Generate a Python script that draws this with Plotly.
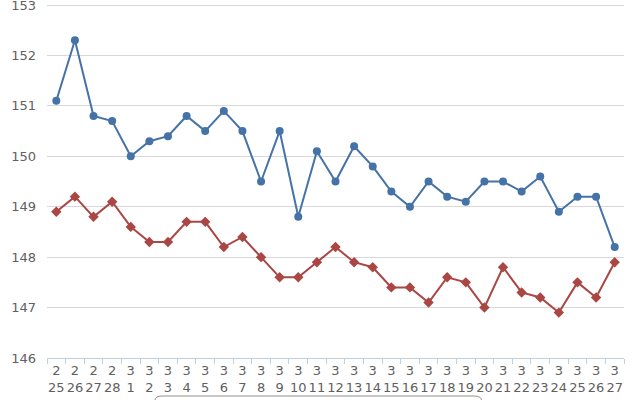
import plotly.graph_objects as go

# dates (month, day) shown as two-line tick labels
months = [2, 2, 2, 2] + [3] * 27
days = [25, 26, 27, 28] + list(range(1, 28))

blue_vals = [151.1, 152.3, 150.8, 150.7, 150.0, 150.3, 150.4, 150.8, 150.5, 150.9,
             150.5, 149.5, 150.5, 148.8, 150.1, 149.5, 150.2, 149.8, 149.3, 149.0,
             149.5, 149.2, 149.1, 149.5, 149.5, 149.3, 149.6, 148.9, 149.2, 149.2,
             148.2]
red_vals = [148.9, 149.2, 148.8, 149.1, 148.6, 148.3, 148.3, 148.7, 148.7, 148.2,
            148.4, 148.0, 147.6, 147.6, 147.9, 148.2, 147.9, 147.8, 147.4, 147.4,
            147.1, 147.6, 147.5, 147.0, 147.8, 147.3, 147.2, 146.9, 147.5, 147.2,
            147.9]

labels = [f"{m}<br>{d}" for m, d in zip(months, days)]

fig = go.Figure()

fig.add_trace(go.Scatter(
    x=labels, y=blue_vals, name="最高",
    mode="lines+markers",
    line=dict(color="#4572A7", width=2),
    marker=dict(symbol="circle", size=8, color="#4572A7"),
))
fig.add_trace(go.Scatter(
    x=labels, y=red_vals, name="最低",
    mode="lines+markers",
    line=dict(color="#AA4643", width=2),
    marker=dict(symbol="diamond", size=8, color="#AA4643"),
))

font = "Lucida Grande, DejaVu Sans, sans-serif"

# legend box, only its top edge is visible at the bottom of the frame
fig.add_shape(
    type="path", xref="paper", yref="paper",
    path="M 0.187,-0.16 L 0.187,-0.12 Q 0.187,-0.107 0.2,-0.107 "
         "L 0.74,-0.107 Q 0.753,-0.107 0.753,-0.12 L 0.753,-0.16",
    line=dict(color="#909090", width=1),
)

fig.update_layout(
    width=640, height=400,
    margin=dict(l=47, r=16, t=3, b=42, autoexpand=False),
    paper_bgcolor="white", plot_bgcolor="white",
    font=dict(family=font, size=12, color="#606060"),
    showlegend=False,
)

fig.update_xaxes(
    type="category", range=[-0.5, len(labels) - 0.5], automargin=False,
    showgrid=False, showline=True, linecolor="#C0D0E0", linewidth=1,
    ticks="outside", tickson="boundaries", ticklen=5, tickcolor="#C0D0E0",
    tickfont=dict(size=13, color="#606060"), tickangle=0,
)
fig.update_yaxes(
    range=[146, 153.04], dtick=1, tick0=146,
    showgrid=True, gridcolor="#D8D8D8", gridwidth=1,
    zeroline=False, showline=False, ticks="", ticklabelstandoff=10, automargin=False,
    ticklabeloverflow="allow",
    tickfont=dict(size=13, color="#606060"),
)

# drop the default page margin so the figure sits at the window's corner
fig.write_html("out.html", config={"displayModeBar": False},
               post_script="document.body.style.margin='0';")
